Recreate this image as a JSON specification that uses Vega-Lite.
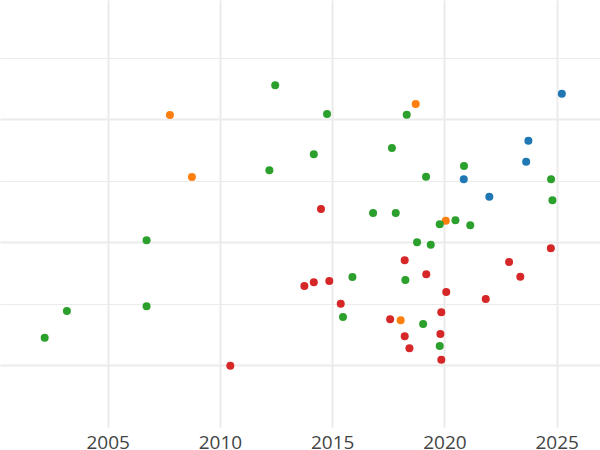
{
  "$schema": "https://vega.github.io/schema/vega-lite/v6.json",
  "width": 600,
  "height": 427,
  "padding": 0,
  "autosize": {"type": "pad"},
  "background": "white",
  "config": {"view": {"stroke": null}},
  "data": {"values": [
    {"year": 2025.23, "value": 5.420, "group": "A"},
    {"year": 2023.74, "value": 4.655, "group": "A"},
    {"year": 2023.64, "value": 4.314, "group": "A"},
    {"year": 2020.86, "value": 4.028, "group": "A"},
    {"year": 2022.00, "value": 3.745, "group": "A"},
    {"year": 2007.77, "value": 5.073, "group": "B"},
    {"year": 2008.75, "value": 4.065, "group": "B"},
    {"year": 2018.72, "value": 5.252, "group": "B"},
    {"year": 2020.06, "value": 3.354, "group": "B"},
    {"year": 2018.05, "value": 1.735, "group": "B"},
    {"year": 2002.19, "value": 1.452, "group": "C"},
    {"year": 2003.18, "value": 1.886, "group": "C"},
    {"year": 2006.73, "value": 1.963, "group": "C"},
    {"year": 2006.73, "value": 3.036, "group": "C"},
    {"year": 2012.46, "value": 5.556, "group": "C"},
    {"year": 2012.20, "value": 4.174, "group": "C"},
    {"year": 2014.77, "value": 5.089, "group": "C"},
    {"year": 2014.18, "value": 4.434, "group": "C"},
    {"year": 2018.32, "value": 5.078, "group": "C"},
    {"year": 2017.66, "value": 4.537, "group": "C"},
    {"year": 2019.18, "value": 4.070, "group": "C"},
    {"year": 2020.87, "value": 4.244, "group": "C"},
    {"year": 2024.75, "value": 4.028, "group": "C"},
    {"year": 2024.81, "value": 3.686, "group": "C"},
    {"year": 2016.82, "value": 3.480, "group": "C"},
    {"year": 2017.83, "value": 3.480, "group": "C"},
    {"year": 2019.79, "value": 3.296, "group": "C"},
    {"year": 2020.49, "value": 3.361, "group": "C"},
    {"year": 2021.15, "value": 3.280, "group": "C"},
    {"year": 2018.78, "value": 3.003, "group": "C"},
    {"year": 2019.39, "value": 2.964, "group": "C"},
    {"year": 2015.90, "value": 2.439, "group": "C"},
    {"year": 2018.26, "value": 2.390, "group": "C"},
    {"year": 2015.48, "value": 1.789, "group": "C"},
    {"year": 2019.05, "value": 1.675, "group": "C"},
    {"year": 2019.79, "value": 1.317, "group": "C"},
    {"year": 2010.46, "value": 0.997, "group": "D"},
    {"year": 2014.50, "value": 3.545, "group": "D"},
    {"year": 2013.76, "value": 2.293, "group": "D"},
    {"year": 2014.18, "value": 2.353, "group": "D"},
    {"year": 2014.87, "value": 2.374, "group": "D"},
    {"year": 2015.38, "value": 2.005, "group": "D"},
    {"year": 2018.23, "value": 2.711, "group": "D"},
    {"year": 2019.19, "value": 2.483, "group": "D"},
    {"year": 2020.08, "value": 2.195, "group": "D"},
    {"year": 2017.58, "value": 1.751, "group": "D"},
    {"year": 2019.86, "value": 1.865, "group": "D"},
    {"year": 2018.23, "value": 1.475, "group": "D"},
    {"year": 2019.82, "value": 1.512, "group": "D"},
    {"year": 2018.44, "value": 1.280, "group": "D"},
    {"year": 2019.86, "value": 1.094, "group": "D"},
    {"year": 2022.88, "value": 2.683, "group": "D"},
    {"year": 2023.38, "value": 2.444, "group": "D"},
    {"year": 2024.74, "value": 2.906, "group": "D"},
    {"year": 2021.84, "value": 2.081, "group": "D"}
  ]},
  "mark": {"type": "circle", "size": 64, "opacity": 1},
  "encoding": {
    "x": {
      "field": "year", "type": "quantitative",
      "scale": {"domain": [2000.2, 2026.93], "nice": false, "zero": false},
      "axis": {
        "values": [2005, 2010, 2015, 2020, 2025], "format": "d", "title": null,
        "domain": false, "ticks": false, "tickSize": 0, "labelPadding": 6,
        "labelFont": "Open Sans", "labelFontSize": 19, "labelColor": "#444444",
        "grid": true, "gridColor": "#ebebeb", "gridWidth": 2
      }
    },
    "y": {
      "field": "value", "type": "quantitative",
      "scale": {"domain": [0, 6.943], "nice": false, "zero": false},
      "axis": {
        "values": [1, 2, 3, 4, 5, 6], "title": null, "labels": false,
        "domain": false, "ticks": false, "grid": true, "gridColor": "#ebebeb",
        "gridWidth": {"condition": {"test": "datum.value % 2 == 1", "value": 2}, "value": 1}
      }
    },
    "color": {
      "field": "group", "type": "nominal",
      "scale": {"domain": ["A", "B", "C", "D"], "range": ["#1f77b4", "#ff7f0e", "#2ca02c", "#d62728"]},
      "legend": null
    }
  }
}
